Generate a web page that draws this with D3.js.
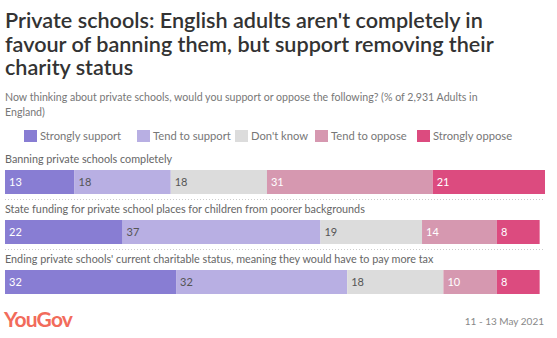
<!DOCTYPE html>
<html><head><meta charset="utf-8">
<script src="https://cdn.jsdelivr.net/npm/d3@7"></script>
<style>
body{margin:0;background:#fff;}
svg{display:block;font-family:Lato, "Open Sans", sans-serif;}
</style></head>
<body><svg id="chart" width="557" height="338"></svg>
<script>
const titleLines = ["Private schools: English adults aren't completely in", "favour of banning them, but support removing their", "charity status"];
const subtitleLines = ["Now thinking about private schools, would you support or oppose the following? (% of 2,931 Adults in", "England)"];
const seriesNames = ["Strongly support", "Tend to support", "Don't know", "Tend to oppose", "Strongly oppose"];
const seriesColors = ["#887dd3", "#b8afe3", "#dcdcdc", "#d698b0", "#dc4b7f"];
const labelColors = ["#ffffff", "#555555", "#555555", "#ffffff", "#ffffff"];
const categories = ["Banning private schools completely", "State funding for private school places for children from poorer backgrounds", "Ending private schools' current charitable status, meaning they would have to pay more tax"];
const stronglySupport = [13, 22, 32];
const tendSupport = [18, 37, 32];
const dontKnow = [18, 19, 18];
const tendOppose = [31, 14, 10];
const stronglyOppose = [21, 8, 8];
const dateText = "11 - 13 May 2021";
const brand = "YouGov";

const svg = d3.select("#chart");
const series = [stronglySupport, tendSupport, dontKnow, tendOppose, stronglyOppose];
const rows = categories.map((c, i) => {
  let acc = 0;
  return {cat: c, segs: series.map((s, k) => { const d = {k, v: s[i], x0: acc}; acc += s[i]; d.x1 = acc; return d; })};
});
const maxTotal = d3.max(rows, r => r.segs[r.segs.length - 1].x1);
const x = d3.scaleLinear().domain([0, maxTotal]).range([5, 545]);
const y = d3.scaleBand().domain(categories).range([145, 295]).paddingInner(0).paddingOuter(0);

// title
svg.append("g").selectAll("text").data(titleLines).join("text")
  .attr("x", 5).attr("y", (d, i) => 28 + i * 23.5)
  .attr("font-size", 21.6).attr("font-weight", 600).attr("fill", "#333").text(d => d);
svg.append("g").selectAll("text").data(subtitleLines).join("text")
  .attr("x", 5).attr("y", (d, i) => 101 + i * 14.5)
  .attr("font-size", 10.6).attr("fill", "#777").text(d => d);

// legend
const legendX = [24, 137, 235, 315, 417];
const lg = svg.append("g").selectAll("g").data(seriesNames).join("g")
  .attr("transform", (d, i) => `translate(${legendX[i]},130)`);
lg.append("rect").attr("width", 13).attr("height", 12).attr("fill", (d, i) => seriesColors[i]);
lg.append("text").attr("x", 16).attr("y", 10).attr("font-size", 11.2).attr("fill", "#777").text(d => d);

// rows
const g = svg.append("g").selectAll("g").data(rows).join("g")
  .attr("transform", r => `translate(0,${y(r.cat)})`);
g.append("text").attr("x", 5).attr("y", 18).attr("font-size", 10.8).attr("fill", "#666").text(r => r.cat);
const seg = g.selectAll("g.seg").data(r => r.segs).join("g").attr("class", "seg");
seg.append("rect").attr("x", d => x(d.x0)).attr("y", 25).attr("width", d => x(d.x1) - x(d.x0)).attr("height", 24)
  .attr("fill", d => seriesColors[d.k]);
seg.append("text").attr("x", d => x(d.x0) + 4).attr("y", 41).attr("font-size", 11)
  .attr("fill", d => labelColors[d.k]).text(d => d.v);
g.filter((r, i) => i < rows.length - 1).append("line")
  .attr("x1", 5).attr("x2", 545).attr("y1", 54.5).attr("y2", 54.5)
  .attr("stroke", "#cccccc").attr("stroke-dasharray", "1,2");

// footer
svg.append("text").attr("x", 4).attr("y", 327).attr("font-size", 21).attr("font-weight", 700)
  .attr("fill", "#f26b5b").attr("letter-spacing", -0.8).text(brand);
svg.append("text").attr("x", 544).attr("y", 325).attr("text-anchor", "end").attr("font-size", 10)
  .attr("fill", "#888").text(dateText);
</script></body></html>
